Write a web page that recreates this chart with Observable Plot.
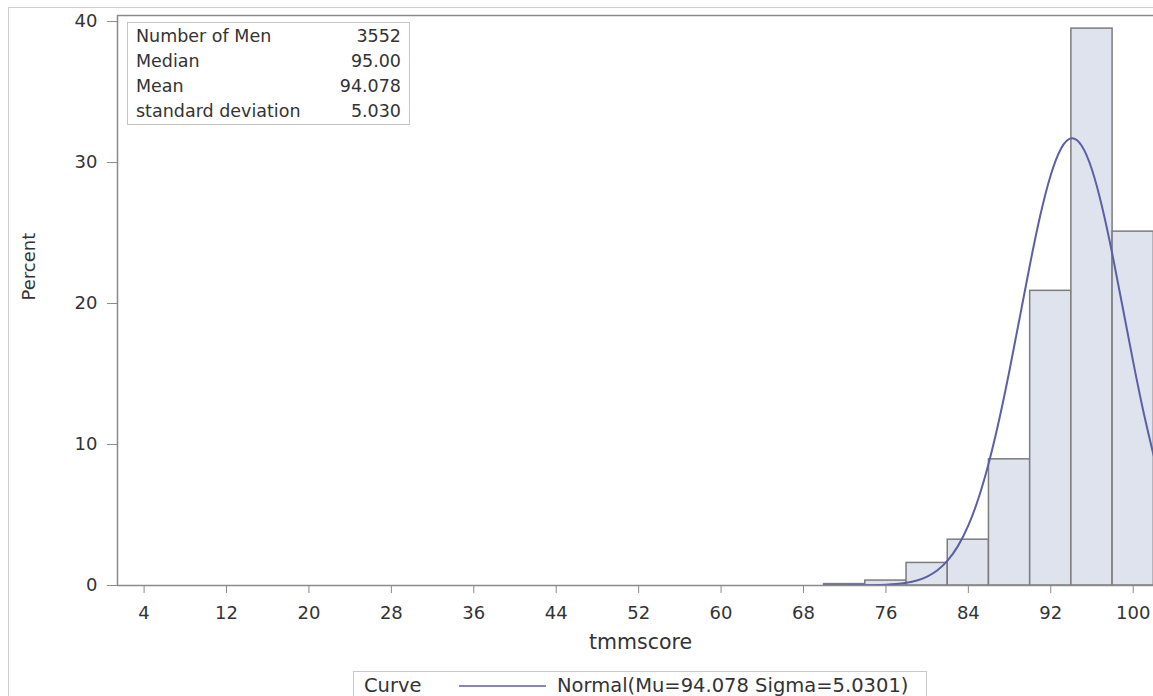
<!DOCTYPE html>
<html>
<head>
<meta charset="utf-8">
<script src="https://cdn.jsdelivr.net/npm/d3@7"></script>
<script src="https://cdn.jsdelivr.net/npm/@observablehq/plot@0.6"></script>
<style>
  html, body { margin: 0; padding: 0; background: #fff; overflow: hidden; }
  #wrap { position: relative; width: 1153px; height: 696px; overflow: hidden; font-family: "DejaVu Sans", sans-serif; color: #333; }
  #outer { position: absolute; left: 8px; top: 7px; width: 1300px; height: 900px; border: 1px solid #cfcfcf; box-sizing: border-box; }
  #chart { position: absolute; left: 0; top: 0; }
  #inset { position: absolute; left: 127px; top: 22px; width: 283px; height: 103px; border: 1px solid #c4c4c4; box-sizing: border-box; background: #fff; font-size: 17.5px; padding: 1px 8px 0 8px; }
  #inset .row { display: flex; justify-content: space-between; height: 25px; line-height: 25px; white-space: nowrap; }
  #legend { position: absolute; left: 353px; top: 671px; width: 574px; height: 40px; border: 1px solid #cacaca; box-sizing: border-box; font-size: 19.5px; white-space: nowrap; }
  #legend span { position: absolute; top: 0; line-height: 27px; }
  #legend svg { position: absolute; top: 0; }
</style>
</head>
<body>
<div id="wrap">
  <div id="outer"></div>
  <div id="chart"></div>
  <div id="inset"></div>
  <div id="legend"></div>
</div>
<script>
// ---- data ----
const binStart = [70, 74, 78, 82, 86, 90, 94, 98];
const binEnd   = [74, 78, 82, 86, 90, 94, 98, 102];
const percent  = [0.1, 0.35, 1.6, 3.25, 8.95, 20.9, 39.5, 25.1];

const curveX = [70, 71, 72, 73, 74, 75, 76, 77, 78, 79, 80, 81, 82, 83, 84, 85, 86, 87, 88, 89, 90, 91, 92, 93, 94, 95, 96, 97, 98, 99, 100, 101, 102];
const curveY = [0.00, 0.00, 0.00, 0.01, 0.01, 0.02, 0.05, 0.10, 0.19, 0.35, 0.63, 1.08, 1.78, 2.81, 4.26, 6.22, 8.74, 11.79, 15.29, 19.05, 22.84, 26.31, 29.12, 31.00, 31.72, 31.19, 29.49, 26.79, 23.41, 19.65, 15.86, 12.31, 9.18];

const xTicks = [4, 12, 20, 28, 36, 44, 52, 60, 68, 76, 84, 92, 100];
const yTicks = [0, 10, 20, 30, 40];
const xDomain = [1.42, 101.97];
const yDomain = [0, 40.43];

const statLabels = ["Number of Men", "Median", "Mean", "standard deviation"];
const statValues = ["3552", "95.00", "94.078", "5.030"];

const xLabel = "tmmscore";
const yLabel = "Percent";
const legendTitle = "Curve";
const legendText = "Normal(Mu=94.078 Sigma=5.0301)";

// ---- build tables ----
const bars = binStart.map((s, i) => ({x1: s, x2: binEnd[i], y: percent[i]}));
const curve = curveX.map((x, i) => ({x, y: curveY[i]}));

const barFill = "#dfe3ee";
const barStroke = "#7c7c7c";
const curveColor = "#5a5fa6";
const axisColor = "#8a8a8a";
const textColor = "#333";

const chart = Plot.plot({
  width: 1153,
  height: 665,
  marginLeft: 117,
  marginRight: 0,
  marginTop: 15,
  marginBottom: 80,
  style: {fontFamily: "DejaVu Sans, sans-serif", color: textColor, background: "transparent"},
  x: {domain: xDomain},
  y: {domain: yDomain},
  marks: [
    Plot.rectY(bars, {x1: "x1", x2: "x2", y: "y", fill: barFill, stroke: barStroke, strokeWidth: 1.5}),
    Plot.line(curve, {x: "x", y: "y", curve: "natural", stroke: curveColor, strokeWidth: 2, clip: true}),
    Plot.ruleX([xDomain[0]], {stroke: axisColor, strokeWidth: 1.5}),
    Plot.ruleY([yDomain[0]], {stroke: axisColor, strokeWidth: 1.5}),
    Plot.ruleY([yDomain[1]], {stroke: axisColor, strokeWidth: 1.5}),
    Plot.axisX({ticks: xTicks, tickSize: 8, tickPadding: 13, fontSize: 18, stroke: axisColor, fill: textColor, label: null, tickFormat: d => String(d)}),
    Plot.axisY({ticks: yTicks, tickSize: 10, tickPadding: 10, fontSize: 18, stroke: axisColor, fill: textColor, label: null, tickFormat: d => String(d)}),
    Plot.text([xLabel], {frameAnchor: "bottom", dy: 63, dx: 5, fontSize: 20.5, fill: textColor}),
    Plot.text([yLabel], {frameAnchor: "left", dx: -88, rotate: -90, fontSize: 18, fill: textColor})
  ]
});
document.getElementById("chart").appendChild(chart);

// ---- inset statistics table ----
const inset = document.getElementById("inset");
statLabels.forEach((lab, i) => {
  const row = document.createElement("div");
  row.className = "row";
  const a = document.createElement("span"); a.textContent = lab;
  const b = document.createElement("span"); b.textContent = statValues[i];
  row.appendChild(a); row.appendChild(b);
  inset.appendChild(row);
});

// ---- legend ----
const legend = document.getElementById("legend");
const t1 = document.createElement("span");
t1.textContent = legendTitle; t1.style.left = "10px";
legend.appendChild(t1);
const sw = d3.create("svg").attr("width", 90).attr("height", 27).style("left", "104px");
sw.append("line").attr("x1", 1).attr("x2", 88).attr("y1", 14).attr("y2", 14)
  .attr("stroke", curveColor).attr("stroke-width", 1.6);
legend.appendChild(sw.node());
const t2 = document.createElement("span");
t2.textContent = legendText; t2.style.left = "203px";
legend.appendChild(t2);
</script>
</body>
</html>
